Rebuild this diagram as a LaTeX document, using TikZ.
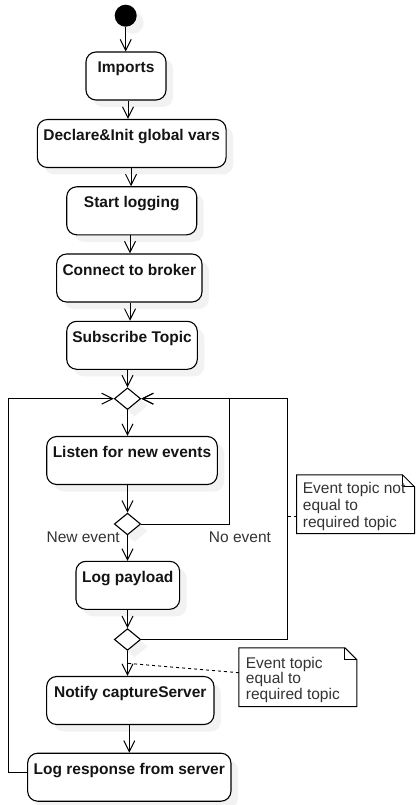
\documentclass[tikz,border=0pt]{standalone}
\usepackage{fontspec}
\setmainfont{Liberation Sans}
\usetikzlibrary{arrows.meta,shapes.geometric,shadows,calc}
\begin{document}
\begin{tikzpicture}[x=1pt,y=-1pt,
  shd/.style={drop shadow={shadow xshift=7pt,shadow yshift=-7pt,fill=black!5,opacity=1}},
  act/.style={draw,line width=1.1pt,rounded corners=10pt,fill=white,shd,
    font=\fontsize{15.5}{17}\selectfont\bfseries,inner sep=0pt,
    text height=21pt,text depth=27pt,text=black!92},
  dec/.style={draw,line width=1.1pt,diamond,fill=white,shd,inner sep=0pt,
    minimum width=26.4pt,minimum height=21.7pt},
  arr/.style={draw,line width=1pt,-{Straight Barb[length=11pt,width=11pt,line width=1pt]}},
  lbl/.style={font=\fontsize{15.5}{17}\selectfont,text=black!80,inner sep=0pt},
  notebox/.style={draw=none,minimum width=117.6pt,minimum height=58.5pt,inner sep=0pt},
  noteline/.style={draw,line width=1pt,fill=white}
]
\useasboundingbox (0,0) rectangle (418,805);

% start
\node[circle,fill=black,minimum size=22pt,inner sep=0pt,shd] (start) at (125.7,15.7) {};

% activities
\node[act,minimum width=80pt]    (imp)  at (126,76)     {Imports};
\node[act,minimum width=188.7pt] (decl) at (131.7,143.5){Declare\&Init global vars};
\node[act,minimum width=130pt]   (log)  at (131.7,210.8){Start logging};
\node[act,minimum width=145.3pt] (conn) at (129.3,278)  {Connect to broker};
\node[act,minimum width=130.6pt] (sub)  at (132,345.3)  {Subscribe Topic};
\node[dec] (d1) at (127.5,398.7) {};
\node[act,minimum width=170.6pt] (lis)  at (132,460.5)  {Listen for new events};
\node[dec] (d2) at (127.5,524) {};
\node[act,minimum width=103.7pt] (pay)  at (127.8,585.3){Log payload};
\node[dec] (d3) at (127.5,639.5) {};
\node[act,minimum width=167.3pt] (noti) at (130.3,700.5){Notify captureServer};
\node[act,minimum width=203.3pt] (resp) at (129.3,777.2){Log response from server};

% main flow
\draw[arr] (start.south) -- (start.south |- imp.north);
\draw[arr] ([xshift=2pt]imp.south) -- ([xshift=2pt]imp.south |- decl.north);
\draw[arr] ([xshift=-0.7pt]decl.south) -- ([xshift=-0.7pt]decl.south |- log.north);
\draw[arr] ([xshift=-1.7pt]log.south) -- ([xshift=-1.7pt]log.south |- conn.north);
\draw[arr] ([xshift=0.7pt]conn.south) -- ([xshift=0.7pt]conn.south |- sub.north);
\draw[arr] (d1.north |- sub.south) -- (d1.north);
\draw[arr] (d1.south) -- (d1.south |- lis.north);
\draw[arr] (d2.north |- lis.south) -- (d2.north);
\draw[arr] (d2.south) -- (d2.south |- pay.north);
\draw[arr] (d3.north |- pay.south) -- (d3.north);
\draw[arr] (d3.south) -- (d3.south |- noti.north);
\draw[arr] ([xshift=-1pt]noti.south) -- ([xshift=-1pt]noti.south |- resp.north);

% loops
\coordinate (cl) at (8.3,398.7);
\coordinate (ci) at (229.3,398.7);
\coordinate (co) at (287.3,398.7);
\draw[arr] ([yshift=5pt]resp.west) -| (cl) -- (d1.west);
\draw[arr] (d2.east) -| (ci) -- (d1.east);
\draw[arr] (d3.east) -| (co) -- (d1.east);

% guards
\node[lbl,anchor=east] (ne) at (120,537.7) {New event};
\node[lbl] (noe) at (240,537.7) {No event};

% note 1
\node[notebox] (n1) at (355.5,504.2) {};
\draw[noteline] (n1.south west) -- (n1.north west) -- ([xshift=-12pt]n1.north east)
  -- ([yshift=-12pt]n1.north east) -- (n1.south east) -- cycle;
\draw[line width=1pt] ([xshift=-12pt]n1.north east) -- ([xshift=-12pt,yshift=-12pt]n1.north east)
  -- ([yshift=-12pt]n1.north east);
\node[lbl,anchor=north west,align=left,font=\fontsize{15.5}{16.7}\selectfont] (t1)
  at (302.7,482.4) {Event topic not\\equal to\\required topic};
\draw[dashed,line width=0.9pt] ($(n1.west)+(0,12.5)$) -- ($(co |- n1.west)+(0,12.5)$);

% note 2
\node[notebox] (n2) at (297.85,677.2) {};
\draw[noteline] (n2.south west) -- (n2.north west) -- ([xshift=-12pt]n2.north east)
  -- ([yshift=-12pt]n2.north east) -- (n2.south east) -- cycle;
\draw[line width=1pt] ([xshift=-12pt]n2.north east) -- ([xshift=-12pt,yshift=-12pt]n2.north east)
  -- ([yshift=-12pt]n2.north east);
\node[lbl,anchor=north west,align=left,font=\fontsize{15.5}{15.4}\selectfont] (t2)
  at (245.7,657.1) {Event topic\\equal to\\required topic};
\coordinate (m) at (127.5,663.3);
\draw[dashed,line width=0.9pt] ($(n2.west)+(0,-4.5)$) -- (m);
\end{tikzpicture}
\end{document}
